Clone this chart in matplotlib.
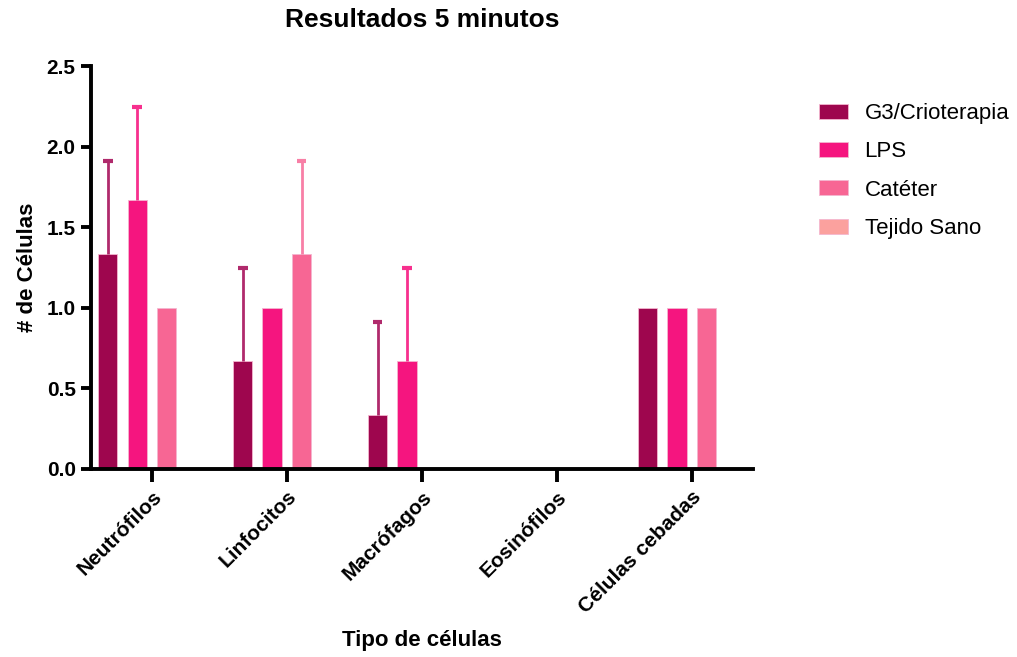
import numpy as np
import matplotlib.pyplot as plt

plt.rcParams['font.family'] = ['Liberation Sans', 'DejaVu Sans']

# datos: media y error (solo hacia arriba) por tipo de célula
categorias = ["Neutrófilos", "Linfocitos", "Macrófagos", "Eosinófilos", "Células cebadas"]
grupos = ["G3/Crioterapia", "LPS", "Catéter", "Tejido Sano"]

g3 = [1.333, 0.667, 0.333, 0.0, 1.0]
lps = [1.667, 1.0, 0.667, 0.0, 1.0]
cateter = [1.0, 1.333, 0.0, 0.0, 1.0]
tejido_sano = [0.0, 0.0, 0.0, 0.0, 0.0]

g3_err = [0.577, 0.577, 0.577, 0.0, 0.0]
lps_err = [0.577, 0.0, 0.577, 0.0, 0.0]
cateter_err = [0.0, 0.577, 0.0, 0.0, 0.0]
tejido_err = [0.0, 0.0, 0.0, 0.0, 0.0]

valores = [g3, lps, cateter, tejido_sano]
errores = [g3_err, lps_err, cateter_err, tejido_err]
colores = ["#9E064E", "#F5157F", "#F76694", "#FBA19E"]
colores_err = ["#B02A6C", "#F7308E", "#F87FA6", "#FBA19E"]

fig = plt.figure(figsize=(10.17, 6.57), dpi=100)
ax = fig.add_axes([0.0895, 0.2862, 0.6505, 0.6133])

x = np.arange(len(categorias))
paso = 0.2185
ancho = 0.144
cap = ancho * 0.5

for i, (vals, errs) in enumerate(zip(valores, errores)):
    pos = x + (i - 1.5) * paso
    vals = np.array(vals)
    errs = np.array(errs)
    ax.bar(pos, vals, width=ancho, color=colores[i], edgecolor="#F4B6CF",
           linewidth=0.6, label=grupos[i], zorder=2)
    # barra de error solo hacia arriba
    m = errs > 0
    if m.any():
        top = vals[m] + errs[m]
        ax.vlines(pos[m], vals[m], top, color=colores_err[i], linewidth=2, zorder=3)
        ax.hlines(top, pos[m] - cap / 2, pos[m] + cap / 2, color=colores_err[i],
                  linewidth=3, zorder=3)

ax.set_xlim(-0.452, 4.452)
ax.set_ylim(0, 2.5)
ax.set_yticks([0, 0.5, 1.0, 1.5, 2.0, 2.5])
ax.set_yticklabels(["0.0", "0.5", "1.0", "1.5", "2.0", "2.5"],
                   fontsize=15, fontweight="bold")
ax.set_xticks(x)
ax.set_xticklabels(categorias, rotation=45, ha="right", rotation_mode="anchor",
                   fontsize=15, fontweight="bold")

for s in ["top", "right"]:
    ax.spines[s].set_visible(False)
for s in ["left", "bottom"]:
    ax.spines[s].set_linewidth(2.8)
ax.tick_params(axis="y", length=7, width=2.8, pad=4)
ax.tick_params(axis="x", length=9, width=2.8, pad=4)

ax.set_ylabel("# de Células", fontsize=16, fontweight="bold", labelpad=6)
ax.set_xlabel("Tipo de células", fontsize=16, fontweight="bold", labelpad=10)
ax.set_title("Resultados 5 minutos", fontsize=19, fontweight="bold", pad=28)

ax.legend(loc="upper left", bbox_to_anchor=(819 / 1017, 1 - 103 / 657),
          bbox_transform=fig.transFigure, frameon=False, borderpad=0,
          borderaxespad=0, fontsize=16, handlelength=1.3, handleheight=0.65,
          labelspacing=0.78, handletextpad=0.75)

fig.savefig("out.png", dpi=100)
